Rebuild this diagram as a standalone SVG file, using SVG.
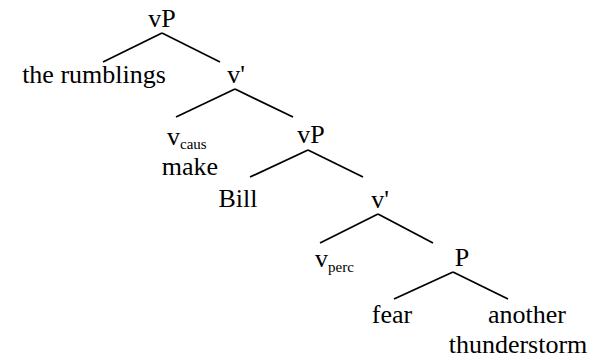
<svg xmlns="http://www.w3.org/2000/svg" width="603" height="360" viewBox="0 0 603 360">
<style>
.edges line{stroke:#000;stroke-width:1.8;stroke-linecap:butt}
</style>
<rect width="603" height="360" fill="#fff"/>
<g class="edges" id="connectors">
<line x1="162" y1="33" x2="103" y2="62"/>
<line x1="162" y1="33" x2="220" y2="62"/>
<line x1="235" y1="89" x2="176" y2="117"/>
<line x1="235" y1="89" x2="293" y2="117"/>
<line x1="308" y1="150" x2="250" y2="177"/>
<line x1="308" y1="150" x2="363" y2="177"/>
<line x1="378" y1="214" x2="320" y2="243"/>
<line x1="378" y1="214" x2="433" y2="243"/>
<line x1="453" y1="272" x2="394" y2="299"/>
<line x1="453" y1="272" x2="508" y2="299"/>
</g>
<g font-family="Liberation Serif, serif" font-size="26" fill="#000">
<g id="vP1"><text x="162" y="27" text-anchor="middle">vP</text></g>
<g id="rumblings"><text x="94" y="83" text-anchor="middle">the rumblings</text></g>
<g id="vbar1"><text x="236" y="83" text-anchor="middle">v'</text></g>
<g id="vcaus"><text x="167" y="145">v<tspan font-size="15" dy="4">caus</tspan></text><text x="190" y="175" text-anchor="middle">make</text></g>
<g id="vP2"><text x="311" y="143" text-anchor="middle">vP</text></g>
<g id="bill"><text x="238" y="207" text-anchor="middle">Bill</text></g>
<g id="vbar2"><text x="380" y="208" text-anchor="middle">v'</text></g>
<g id="vperc"><text x="315" y="267">v<tspan font-size="15" dy="5">perc</tspan></text></g>
<g id="P"><text x="462" y="266" text-anchor="middle">P</text></g>
<g id="fear"><text x="392" y="323" text-anchor="middle">fear</text></g>
<g id="another"><text x="527" y="323" text-anchor="middle">another</text><text x="518" y="353" text-anchor="middle">thunderstorm</text></g>
</g>
</svg>
